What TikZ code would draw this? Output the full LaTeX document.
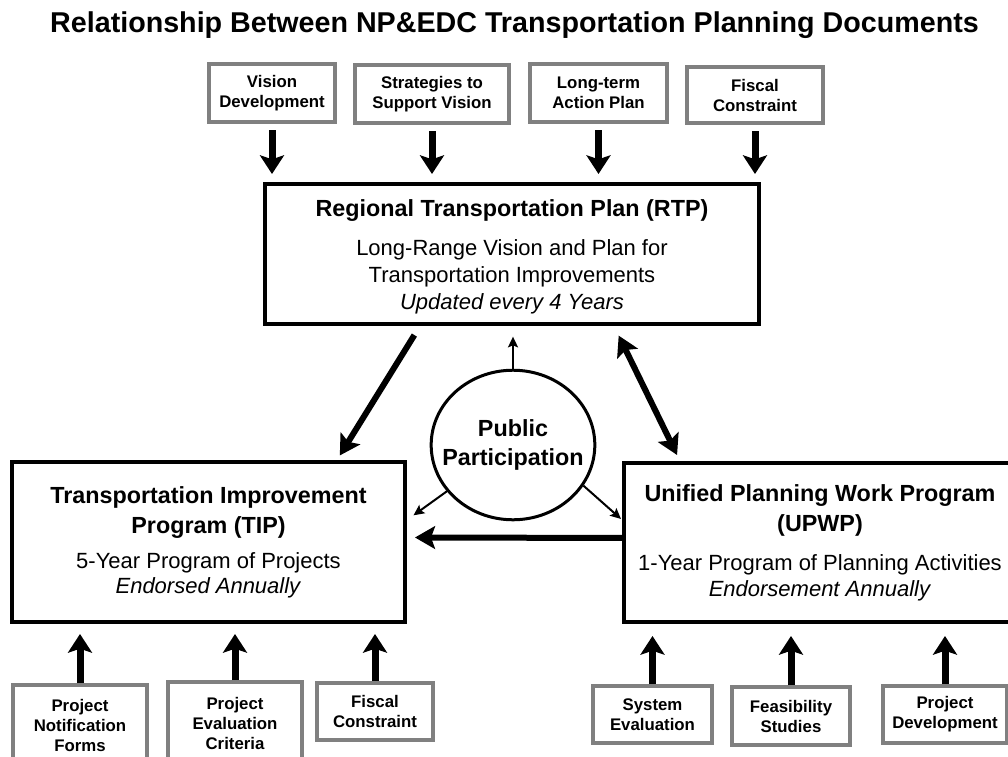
\documentclass[tikz,border=0pt]{standalone}
\usepackage{fontspec}
\setmainfont{Liberation Sans}
\usetikzlibrary{arrows.meta,shapes.geometric}

\definecolor{boxgray}{RGB}{128,128,128}
\newcommand\titlefont{\fontsize{21.5}{26}\selectfont\bfseries}
\newcommand\headfont{\fontsize{17.5}{22}\selectfont\bfseries}
\newcommand\bodyfont{\fontsize{16.5}{20.25}\selectfont}
\newcommand\feedfont{\fontsize{12.6}{15}\selectfont\bfseries}

\tikzset{
  doc/.style={draw, line width=3pt, align=center, font=\bodyfont, inner sep=0pt},
  feed/.style={draw=boxgray, line width=3pt, align=center, font=\feedfont, inner sep=0pt},
  feedarrow/.style={line width=5.25pt, -{Stealth[length=14pt,width=18pt,inset=3pt]}},
  linkarrow/.style={line width=4.5pt, -{Stealth[length=15pt,width=17pt,inset=3pt]}},
  bothways/.style={line width=4.5pt, {Stealth[length=15pt,width=17pt,inset=3pt]}-{Stealth[length=15pt,width=17pt,inset=3pt]}},
  thinarrow/.style={line width=1.5pt, -{Stealth[length=8pt,width=7.5pt,inset=1.5pt]}}
}

\begin{document}
\begin{tikzpicture}[x=0.75pt,y=-0.75pt]
  \useasboundingbox (0,0) rectangle (1008,757);
  \clip (0,0) rectangle (1008,757);
  \fill[white] (0,0) rectangle (1008,757);

  \node[font=\titlefont, anchor=base] (title) at (514.5,32)
    {Relationship Between NP\&EDC Transportation Planning Documents};

  % the three documents
  \node[doc, minimum width=370.5pt, minimum height=105pt] (rtp) at (512,254)
    {\rule{0pt}{17.5pt}{\headfont Regional Transportation Plan (RTP)}\\[9pt]
     Long-Range Vision and Plan for\\
     Transportation Improvements\\
     \textit{Updated every 4 Years}};
  \node[doc, minimum width=294.75pt, minimum height=120pt] (tip) at (208.5,542)
    {{\headfont Transportation Improvement}\\[2.25pt]
     {\headfont Program (TIP)}\\[6pt]
     5-Year Program of Projects\\[-1.5pt]
     \textit{Endorsed Annually}};
  \node[doc, minimum width=294pt, minimum height=119.25pt] (upwp) at (820,542.5)
    {{\headfont Unified Planning Work Program}\\[2.25pt]
     {\headfont (UPWP)}\\[9pt]
     1-Year Program of Planning Activities\\[-0.75pt]
     \textit{Endorsement Annually}};

  \node[draw, ellipse, line width=2.25pt, inner xsep=-9.6pt, inner ysep=20.5pt,
        align=center, font=\headfont] (pp) at (513,445) {Public\\Participation};

  % inputs to the RTP
  \node[feed, minimum width=94.5pt, minimum height=43.5pt] (vis) at (272,93) {Vision\\Development};
  \node[feed, minimum width=115.5pt, minimum height=43.5pt] (strat) at (432,94) {Strategies to\\Support Vision};
  \node[feed, minimum width=102.75pt, minimum height=43.5pt] (lterm) at (598.5,93) {Long-term\\Action Plan};
  \node[feed, minimum width=102pt, minimum height=42pt] (fisc) at (755,95) {Fiscal\\Constraint};

  % inputs to the TIP
  \node[feed, minimum width=100.5pt, minimum height=60pt] (pnf) at (80,725) {Project\\Notification\\Forms};
  \node[feed, minimum width=100.5pt, minimum height=62.25pt] (pec) at (235,723.5) {Project\\Evaluation\\Criteria};
  \node[feed, minimum width=87pt, minimum height=42.75pt] (fisctip) at (375,711.5) {Fiscal\\Constraint};

  % inputs to the UPWP
  \node[feed, minimum width=89.25pt, minimum height=42.75pt] (syse) at (652.5,714.5) {System\\Evaluation};
  \node[feed, minimum width=88.5pt, minimum height=43.5pt] (feas) at (791,716) {Feasibility\\Studies};
  \node[feed, minimum width=93pt, minimum height=42.75pt] (pdev) at (945,714.5) {Project\\Development};

  \foreach \n in {vis,strat,lterm,fisc}
    \draw[feedarrow, shorten <=4.5pt, shorten >=6pt] (\n.south) -- (\n.south |- rtp.north);
  \foreach \n in {pnf,pec,fisctip}
    \draw[feedarrow, shorten >=7.5pt] (\n.north) -- (\n.north |- tip.south);
  \foreach \n in {syse,feas,pdev}
    \draw[feedarrow, shorten >=9pt] (\n.north) -- (\n.north |- upwp.south);

  % links between the documents
  \draw[linkarrow, shorten <=8pt, shorten >=4pt] ([xshift=117.75pt]rtp.south west) -- ([xshift=-52.5pt]tip.north east);
  \draw[bothways, shorten <=8pt, shorten >=5pt] ([xshift=-110.25pt]rtp.south east) -- ([xshift=43.5pt]upwp.north west);
  \draw[linkarrow, shorten >=6pt] ([yshift=3.4pt]upwp.west) -- ([yshift=3.4pt]tip.east);

  % public participation feeds all three
  \draw[thinarrow, shorten >=8pt] (pp.north) -- (pp.north |- rtp.south);
  \draw[thinarrow, shorten >=6pt] (pp.215) -- ([yshift=16.5pt]tip.east);
  \draw[thinarrow, shorten >=1pt] (pp.-30) -- ([yshift=17pt]upwp.west);
\end{tikzpicture}
\end{document}
